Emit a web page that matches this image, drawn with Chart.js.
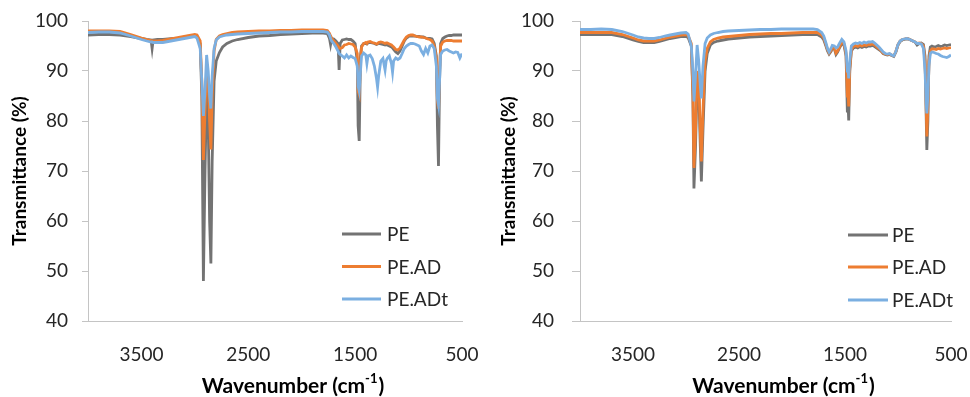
<!DOCTYPE html>
<html><head><meta charset="utf-8">
<script src="https://cdn.jsdelivr.net/npm/chart.js@4.4.0/dist/chart.umd.min.js"></script>
<style>
html,body{margin:0;padding:0;background:#fff;}
#wrap{position:relative;width:970px;height:397px;overflow:hidden;}
.p{position:absolute;top:0;width:485px;height:397px;}
canvas{display:block;}
</style></head><body>
<div id="wrap">
<div class="p" style="left:0"><canvas id="c1" width="485" height="397"></canvas></div>
<div class="p" style="left:485px"><canvas id="c2" width="485" height="397"></canvas></div>
</div>
<script>
// ---------- data ----------
const seriesNames = ['PE', 'PE.AD', 'PE.ADt'];
const xTicks = [3500, 2500, 1500, 500];
const yTicks = [40, 50, 60, 70, 80, 90, 100];
const yTitle = 'Transmittance (%)';
const xTitleMain = 'Wavenumber (cm';
const xTitleSup = '-1';
const xTitleEnd = ')';

// left panel
const wnA = [4000,3900,3800,3700,3600,3500,3450,3410,3400,3390,3350,3300,3250,3200,3150,3100,3050,3000,
  2980,2950,2935,2920,2905,2890,2875,2862,2850,2838,2820,2800,2770,2740,2700,2650,2600,
  2500,2400,2300,2200,2100,2000,1900,1800,1760,1740,1730,1720,1700,1680,1660,1650,1640,
  1620,1600,1580,1560,1540,1520,1500,1480,1472,1462,1450,1440,1420,1400,1390,1380,1360,1340,
  1320,1300,1290,1280,1260,1240,1220,1210,1200,1180,1160,1150,1140,1120,1100,1080,1060,1040,1020,1000,
  980,960,940,920,900,880,860,840,820,800,780,760,740,730,720,710,700,680,
  660,640,620,600,580,560,540,520,500];
const peA = [97.2,97.3,97.3,97.2,96.9,96.5,96.3,96.2,94.5,96.2,96.3,96.3,96.4,96.5,96.5,96.7,96.9,97.0,
  96.9,95.5,85,48,70,86,80,60,51.5,72,88,92,93.7,94.8,95.5,96.0,96.3,
  96.7,97.0,97.1,97.3,97.4,97.5,97.6,97.6,97.5,96.5,95.3,96.5,96.4,96.0,95.5,90.2,95.5,
  96.2,96.3,96.4,96.3,96.3,96.0,95.5,92,79,76,93,95.0,95.5,95.5,95.4,95.6,95.7,95.6,
  95.5,95.3,95.4,95.5,95.4,95.3,95.2,95.3,95.2,95.0,94.8,94.6,94.3,93.8,93.5,94.0,95.0,96.0,96.6,96.9,
  97.0,97.0,97.0,96.9,96.9,96.8,96.8,96.6,96.5,96.5,96.4,95.5,93,79,71,88,95.5,96.5,
  96.8,97.0,97.1,97.1,97.2,97.2,97.2,97.2,97.2];
const peadA = [98.0,98.0,98.0,97.9,97.3,96.6,96.3,96.1,96.0,96.0,96.0,96.1,96.3,96.5,96.7,96.9,97.1,97.3,
  97.2,96.0,88,72.2,82,90,88,80,74.3,85,94,96.3,97.0,97.3,97.5,97.7,97.8,
  97.9,98.0,98.0,98.1,98.1,98.2,98.2,98.2,98.1,97.5,97.0,96.6,96.0,95.5,95.0,94.6,94.5,
  94.7,95.2,95.3,95.5,95.4,95.3,94.8,93.5,86,85.3,92,94.8,95.5,95.7,95.5,95.8,95.9,95.7,
  95.6,95.4,95.5,95.7,95.8,95.7,95.5,95.6,95.6,95.4,95.2,95.0,94.8,94.3,94.2,94.6,95.4,96.2,96.8,97.1,
  97.2,97.2,97.0,96.9,96.8,96.8,96.7,96.6,96.4,96.3,96.0,95.0,92.5,84,82.5,90,95,95.8,
  96.0,96.1,96.1,96.1,96.0,96.0,96.0,96.0,96.0];
const peadtA = [97.7,97.8,97.8,97.6,97.0,96.3,96.0,95.8,95.8,95.7,95.7,95.7,95.9,96.1,96.3,96.5,96.7,96.9,
  96.6,94.5,88,81,86,93.2,90,85,82.5,89,94.5,96.2,96.8,97.0,97.2,97.3,97.4,
  97.5,97.6,97.7,97.8,97.8,97.9,97.9,97.9,97.8,97.2,96.5,96.0,95.5,94.8,94.0,93.5,93.3,
  93.0,92.6,93.2,92.6,93.0,92.7,92.5,91,87,86,90,93.0,93.6,93.2,91.5,93.0,93.2,92.5,
  91.0,88.5,86.8,89,92.0,92.5,90.2,92.0,92.5,93.0,91.5,89.8,92.0,92.6,92.3,92.6,93.5,94.5,95.0,95.3,
  95.5,95.5,95.4,95.2,95.0,94.0,93.3,94.5,93.6,95.0,95.2,94.5,91,84.5,83.2,88,93.3,94.0,
  94.2,94.3,94.0,93.8,93.6,93.8,93.7,92.6,93.5];

// right panel
const wnB = [4000,3900,3800,3700,3600,3500,3450,3400,3350,3300,3250,3200,3150,3100,3050,3000,
  2980,2950,2935,2925,2910,2895,2880,2865,2855,2840,2820,2800,2770,2740,2700,2650,2600,
  2500,2400,2300,2200,2100,2000,1900,1800,1760,1720,1700,1680,1665,1650,1630,1620,1600,
  1585,1570,1550,1530,1510,1490,1478,1472,1465,1455,1440,1420,1400,1380,1360,1340,1320,1300,
  1280,1260,1240,1220,1200,1180,1160,1140,1120,1100,1080,1060,1040,1020,1000,
  980,960,940,920,900,880,860,840,820,800,780,760,745,735,728,718,708,695,680,
  660,640,620,600,580,560,540,520,500];
const peB = [97.3,97.3,97.3,97.3,96.9,96.2,95.9,95.7,95.7,95.7,95.9,96.2,96.5,96.7,96.9,96.9,
  96.7,95.0,85,66.5,75,88,86,75,67.9,78,90,93.5,95.2,95.7,96.0,96.2,96.4,
  96.6,96.8,96.9,97.0,97.1,97.2,97.3,97.3,97.3,96.8,96.2,95.0,94.0,93.4,94.0,94.6,94.4,
  93.3,93.8,94.7,95.5,95.2,93,82,84,80.1,90,94,94.6,94.8,94.6,94.9,94.7,94.9,94.8,
  95.0,95.0,95.1,94.9,94.6,94.3,94.0,93.5,93.3,93.2,93.3,93.1,92.9,93.8,95.2,
  95.9,96.2,96.3,96.4,96.4,96.2,96.0,95.8,95.2,95.5,95.6,95.3,93,82,74.2,80,93,94.8,95.0,
  94.8,94.9,95.1,94.9,95.0,95.2,95.1,95.2,95.3];
const peadB = [97.7,97.7,97.7,97.7,97.3,96.6,96.2,96.0,96.0,96.0,96.2,96.5,96.8,97.0,97.2,97.3,
  97.1,95.5,86,70.6,78,90,88,78,71.9,82,92,94.5,95.8,96.3,96.6,96.8,96.9,
  97.1,97.3,97.4,97.5,97.5,97.6,97.7,97.7,97.7,97.2,96.6,95.3,94.3,93.6,94.2,94.8,94.6,
  93.6,94.0,94.9,95.8,95.5,93.5,85,86,82.9,90.5,94.3,94.9,95.1,94.9,95.2,95.0,95.2,95.1,
  95.3,95.3,95.4,95.2,94.8,94.5,94.1,93.6,93.4,93.3,93.4,93.2,93.0,93.9,95.3,
  96.0,96.3,96.4,96.5,96.4,96.2,96.0,95.8,95.5,95.6,95.5,95.0,92,84,76.9,83,92,94.0,94.4,
  94.4,94.3,94.5,94.4,94.5,94.6,94.5,94.6,94.7];
const peadtB = [98.3,98.3,98.4,98.3,97.9,97.2,96.8,96.6,96.5,96.5,96.7,97.0,97.2,97.4,97.6,97.7,
  97.4,95.0,90,83.9,89,95.2,92,87,84.5,91,95.5,96.6,97.2,97.5,97.7,97.9,98.0,
  98.1,98.2,98.3,98.3,98.4,98.4,98.4,98.4,98.3,97.7,97.0,95.6,94.5,93.8,94.6,95.1,95.0,
  94.6,94.8,95.6,96.3,95.8,94,90,90.5,88.5,92,95,95.4,95.6,95.5,95.7,95.5,95.8,95.6,
  95.8,95.8,95.9,95.6,95.2,94.8,94.3,93.8,93.5,93.4,93.5,93.2,93.0,93.9,95.3,
  96.0,96.3,96.4,96.5,96.4,96.2,96.0,95.8,95.5,95.5,95.4,94.5,90,84,81.5,85,91,93.5,93.8,
  93.7,93.5,93.4,93.1,92.9,92.8,92.7,92.9,93.2];

// ---------- styling ----------
const colors = ['#737373', '#ED7D31', '#7BAFE1'];
const axisColor = '#C4C4C4';
const textColor = '#262626';
const FONT = 'Lato, "Open Sans", sans-serif';

const decor = {
  id: 'decor',
  afterDraw(chart, args, o) {
    const ctx = chart.ctx, ca = chart.chartArea;
    ctx.save();
    ctx.fillStyle = '#000';
    ctx.save();
    ctx.translate(o.yTitleX, (ca.top + ca.bottom) / 2);
    ctx.rotate(-Math.PI / 2);
    ctx.font = 'bold 19px ' + FONT;
    ctx.textAlign = 'center';
    ctx.textBaseline = 'middle';
    ctx.fillText(yTitle, 0, 0);
    ctx.restore();
    ctx.textBaseline = 'middle';
    ctx.textAlign = 'left';
    const fMain = 'bold 21px ' + FONT, fSup = 'bold 13px ' + FONT;
    ctx.font = fMain;
    const w1 = ctx.measureText(xTitleMain).width;
    const w3 = ctx.measureText(xTitleEnd).width;
    ctx.font = fSup;
    const w2 = ctx.measureText(xTitleSup).width;
    const total = w1 + w2 + w3 + 1;
    let x = (ca.left + ca.right) / 2 + o.xTitleShift - total / 2;
    const y = o.xTitleY;
    ctx.font = fMain; ctx.fillText(xTitleMain, x, y); x += w1;
    ctx.font = fSup; ctx.fillText(xTitleSup, x, y - 7); x += w2 + 1;
    ctx.font = fMain; ctx.fillText(xTitleEnd, x, y);
    ctx.font = '19px ' + FONT;
    ctx.fillStyle = textColor;
    chart.data.datasets.forEach((ds, i) => {
      const ly = o.legY[i];
      ctx.strokeStyle = ds.borderColor;
      ctx.lineWidth = 3;
      ctx.beginPath(); ctx.moveTo(o.legX0, ly); ctx.lineTo(o.legX1, ly); ctx.stroke();
      ctx.fillText(ds.label, o.legTX, ly + 1);
    });
    ctx.restore();
  }
};

function makeChart(id, wn, sets, g) {
  const datasets = sets.map((vals, i) => ({
    label: seriesNames[i],
    data: wn.map((w, j) => ({ x: w, y: vals[j] })),
    borderColor: colors[i],
    borderWidth: 2.8,
    pointRadius: 0,
    tension: 0,
    fill: false,
    order: 3 - i
  }));
  return new Chart(document.getElementById(id), {
    type: 'line',
    data: { datasets },
    plugins: [decor],
    options: {
      responsive: false,
      animation: false,
      devicePixelRatio: 1,
      layout: { padding: { top: g.top, right: g.right, left: 0, bottom: 0 } },
      plugins: { legend: { display: false }, tooltip: { enabled: false }, decor: g.decor },
      scales: {
        x: {
          type: 'linear', reverse: true, min: 500, max: 4000,
          afterBuildTicks: s => { s.ticks = xTicks.map(v => ({ value: v })); },
          afterFit: s => { s.height = g.xH; s.paddingLeft = 0; s.paddingRight = 0; },
          grid: { display: true, drawOnChartArea: false, drawTicks: false },
          border: { display: true, color: axisColor, width: 1 },
          ticks: { color: textColor, font: { family: FONT, size: 19 }, padding: g.xPad, maxRotation: 0, autoSkip: false,
            callback: v => String(v) }
        },
        y: {
          min: 40, max: 100,
          afterBuildTicks: s => { s.ticks = yTicks.map(v => ({ value: v })); },
          afterFit: s => { s.width = g.yW; s.paddingTop = 0; s.paddingBottom = 0; },
          grid: { display: true, drawOnChartArea: false, drawTicks: true, tickLength: g.tl, color: axisColor },
          border: { display: true, color: axisColor, width: 1 },
          ticks: { color: textColor, font: { family: FONT, size: 19 }, padding: g.yPad, autoSkip: false,
            callback: v => String(v) }
        }
      }
    }
  });
}

makeChart('c1', wnA, [peA, peadA, peadtA], {
  top: 21, right: 23, xH: 76, yW: 88, xPad: 22, tl: 6, yPad: 14,
  decor: { yTitleX: 20, xTitleY: 386, xTitleShift: 18, legX0: 342, legX1: 381, legTX: 387, legY: [234, 266.5, 299] }
});
makeChart('c2', wnB, [peB, peadB, peadtB], {
  top: 21, right: 19, xH: 76, yW: 95, xPad: 22, tl: 8, yPad: 18,
  decor: { yTitleX: 24, xTitleY: 386, xTitleShift: 18, legX0: 363, legX1: 403, legTX: 407, legY: [235, 267, 300] }
});
</script>
</body></html>
